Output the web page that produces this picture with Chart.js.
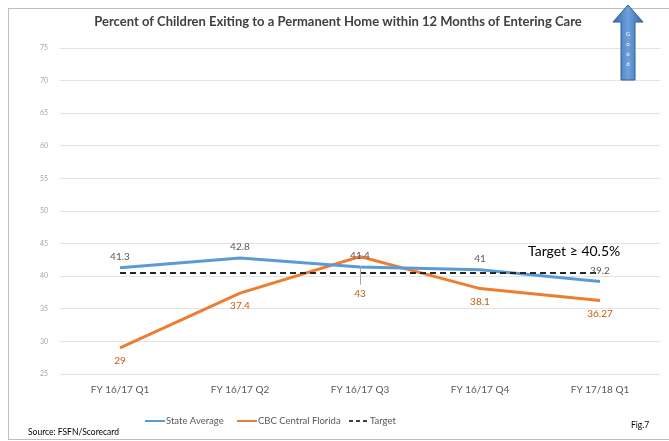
<!DOCTYPE html>
<html>
<head>
<meta charset="utf-8">
<script src="https://cdn.jsdelivr.net/npm/chart.js@4.4.0/dist/chart.umd.min.js"></script>
<style>
  html, body { margin: 0; padding: 0; background: #fff; }
  #wrap { width: 669px; height: 441px; position: relative; }
</style>
</head>
<body>
<div id="wrap"><canvas id="chart" width="669" height="441"></canvas></div>
<script>
// =====================
// DATA
// =====================
const quarters = ["FY 16/17 Q1", "FY 16/17 Q2", "FY 16/17 Q3", "FY 16/17 Q4", "FY 17/18 Q1"];
const stateAverage = [41.3, 42.8, 41.4, 41, 39.2];
const cbcCentralFlorida = [29, 37.4, 43, 38.1, 36.27];
const target = [40.5, 40.5, 40.5, 40.5, 40.5];
const yTicks = [25, 30, 35, 40, 45, 50, 55, 60, 65, 70, 75];

const BLUE = "#5b9bd5";
const ORANGE = "#ed7d31";
const FONT = "Lato, 'Open Sans', sans-serif";

// =====================
// EXTRA DRAWING (frame, labels, legend, arrow)
// =====================
const extras = {
    id: "extras",
    beforeDraw(chart) {
        const ctx = chart.ctx;
        ctx.save();
        ctx.fillStyle = "#fff";
        ctx.fillRect(0, 0, chart.width, chart.height);
        ctx.strokeStyle = "#bfbfbf";
        ctx.lineWidth = 1;
        ctx.strokeRect(8.5, 8.5, 680, 431);
        ctx.restore();
    },
    afterDraw(chart) {
        const ctx = chart.ctx;
        const x = chart.scales.x;
        const y = chart.scales.y;
        ctx.save();

        // title
        ctx.fillStyle = "#404040";
        ctx.font = "bold 13px " + FONT;
        ctx.textAlign = "center";
        ctx.textBaseline = "middle";
        ctx.fillText("Percent of Children Exiting to a Permanent Home within 12 Months of Entering Care", 338, 22);

        // data labels
        ctx.font = "10px " + FONT;
        stateAverage.forEach((v, i) => {
            ctx.fillStyle = "#595959";
            ctx.fillText(String(v), x.getPixelForValue(i), y.getPixelForValue(v) - 11);
        });
        cbcCentralFlorida.forEach((v, i) => {
            ctx.fillStyle = "#c55a11";
            const px = x.getPixelForValue(i);
            const py = y.getPixelForValue(v);
            if (i === 2) {
                ctx.strokeStyle = "#a6a6a6";
                ctx.lineWidth = 1;
                ctx.beginPath();
                ctx.moveTo(px + 0.5, py + 10);
                ctx.lineTo(px + 0.5, py + 28);
                ctx.stroke();
                ctx.fillText(String(v), px, py + 37);
            } else {
                ctx.fillText(String(v), px, py + 13);
            }
        });

        // target text
        ctx.fillStyle = "#000";
        ctx.font = "14px " + FONT;
        ctx.textAlign = "left";
        ctx.fillText("Target \u2265 40.5%", 528, 251);

        // legend
        ctx.font = "9.5px " + FONT;
        ctx.fillStyle = "#595959";
        const ly = 421;
        const items = [
            { label: "State Average", color: BLUE, dash: [], x: 145 },
            { label: "CBC Central Florida", color: ORANGE, dash: [], x: 237 },
            { label: "Target", color: "#000", dash: [4, 3], x: 349 }
        ];
        items.forEach(it => {
            ctx.strokeStyle = it.color;
            ctx.lineWidth = it.dash.length ? 1.5 : 2;
            ctx.setLineDash(it.dash);
            ctx.beginPath();
            ctx.moveTo(it.x, ly);
            ctx.lineTo(it.x + 20, ly);
            ctx.stroke();
            ctx.setLineDash([]);
            ctx.fillText(it.label, it.x + 21, ly);
        });

        // source + fig
        ctx.fillStyle = "#000";
        ctx.font = "8.5px " + FONT;
        ctx.fillText("Source: FSFN/Scorecard", 28, 432);
        ctx.fillText("Fig.7", 631, 425);

        // arrow
        const grad = ctx.createLinearGradient(614, 0, 642, 0);
        grad.addColorStop(0, "#3a6fb0");
        grad.addColorStop(0.5, "#6fa0dc");
        grad.addColorStop(1, "#3a6fb0");
        ctx.fillStyle = grad;
        ctx.strokeStyle = "#2f5f9a";
        ctx.lineWidth = 1;
        ctx.beginPath();
        ctx.moveTo(628, 5);
        ctx.lineTo(643, 22);
        ctx.lineTo(635, 22);
        ctx.lineTo(635, 80);
        ctx.lineTo(621, 80);
        ctx.lineTo(621, 22);
        ctx.lineTo(613, 22);
        ctx.closePath();
        ctx.fill();
        ctx.stroke();
        ctx.fillStyle = "#fff";
        ctx.font = "6px " + FONT;
        ctx.textAlign = "center";
        ["G", "o", "o", "d"].forEach((c, i) => ctx.fillText(c, 628, 34 + i * 10));

        ctx.restore();
    }
};

// =====================
// CHART
// =====================
new Chart(document.getElementById("chart"), {
    type: "line",
    data: {
        labels: quarters,
        datasets: [
            { label: "Target", data: target, borderColor: "#262626", borderWidth: 2, borderDash: [6, 4], pointRadius: 0 },
            { label: "State Average", data: stateAverage, borderColor: BLUE, borderWidth: 3, pointRadius: 0 },
            { label: "CBC Central Florida", data: cbcCentralFlorida, borderColor: ORANGE, borderWidth: 3, pointRadius: 0 }
        ]
    },
    options: {
        responsive: false,
        animation: false,
        layout: { padding: { left: 15, right: 9, top: 48, bottom: 37 } },
        plugins: { legend: { display: false }, title: { display: false }, tooltip: { enabled: false } },
        scales: {
            x: {
                offset: true,
                grid: { display: false, drawTicks: false },
                border: { display: false },
                ticks: { color: "#595959", font: { family: FONT, size: 10 }, padding: 10, maxRotation: 0 },
                afterFit: s => { s.height = 30; }
            },
            y: {
                min: 25,
                max: 75,
                afterBuildTicks: s => { s.ticks = yTicks.map(v => ({ value: v })); },
                grid: { color: "#e3e3e3", drawTicks: false },
                border: { display: false },
                ticks: { color: "#a6a6a6", font: { family: FONT, size: 7 }, padding: 12 },
                afterFit: s => { s.width = 45; }
            }
        }
    },
    plugins: [extras]
});
</script>
</body>
</html>
